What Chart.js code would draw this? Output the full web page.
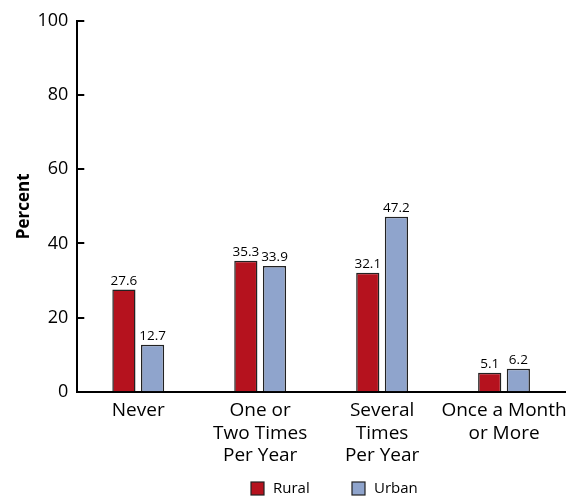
<!DOCTYPE html>
<html>
<head>
<meta charset="utf-8">
<script src="https://cdn.jsdelivr.net/npm/chart.js@4.4.0/dist/chart.umd.min.js"></script>
<style>
  html, body { margin: 0; padding: 0; background: #fff; }
  #wrap { width: 574px; height: 502px; }
</style>
</head>
<body>
<div id="wrap"><canvas id="chart"></canvas></div>
<script>
// Chart data
const categories = [
    'Never',
    ['One or', 'Two Times', 'Per Year'],
    ['Several', 'Times', 'Per Year'],
    ['Once a Month', 'or More']
];
const seriesNames = ['Rural', 'Urban'];
const ruralValues = [27.6, 35.3, 32.1, 5.1];
const urbanValues = [12.7, 33.9, 47.2, 6.2];
const yTicks = [0, 20, 40, 60, 80, 100];

const FONT = "'Open Sans', 'Noto Sans', sans-serif";
const colors = ['#b5121e', '#8fa4cc'];

// Value labels above each bar
const valueLabels = {
    id: 'valueLabels',
    afterDatasetsDraw(chart) {
        const ctx = chart.ctx;
        ctx.save();
        ctx.font = '13.5px ' + FONT;
        ctx.fillStyle = '#000';
        ctx.textAlign = 'center';
        ctx.textBaseline = 'bottom';
        chart.data.datasets.forEach((ds, i) => {
            chart.getDatasetMeta(i).data.forEach((bar, j) => {
                ctx.fillText(ds.data[j].toFixed(1), bar.x, bar.y - 2);
            });
        });
        ctx.restore();
    }
};

// Tick marks pointing into the plot on the y axis
const innerTicks = {
    id: 'innerTicks',
    afterDraw(chart) {
        const y = chart.scales.y;
        const ctx = chart.ctx;
        ctx.save();
        ctx.strokeStyle = '#000';
        ctx.lineWidth = 2;
        yTicks.forEach(v => {
            const py = Math.round(y.getPixelForValue(v));
            ctx.beginPath();
            ctx.moveTo(y.right, py);
            ctx.lineTo(y.right + 7, py);
            ctx.stroke();
        });
        ctx.restore();
    }
};

// Legend drawn under the chart
const bottomLegend = {
    id: 'bottomLegend',
    afterDraw(chart) {
        const ctx = chart.ctx;
        const xs = [251, 352];
        const top = 482;
        ctx.save();
        ctx.font = '15px ' + FONT;
        ctx.textBaseline = 'middle';
        chart.data.datasets.forEach((ds, i) => {
            ctx.fillStyle = ds.backgroundColor;
            ctx.fillRect(xs[i], top, 13, 13);
            ctx.strokeStyle = '#222';
            ctx.lineWidth = 1.2;
            ctx.strokeRect(xs[i], top, 13, 13);
            ctx.fillStyle = '#000';
            ctx.fillText(ds.label, xs[i] + 22, top + 7);
        });
        ctx.restore();
    }
};

new Chart(document.getElementById('chart'), {
    type: 'bar',
    data: {
        labels: categories,
        datasets: [
            {
                label: seriesNames[0],
                data: ruralValues,
                backgroundColor: colors[0],
                borderColor: '#222',
                borderWidth: 1.5,
                categoryPercentage: 0.47,
                barPercentage: 0.81
            },
            {
                label: seriesNames[1],
                data: urbanValues,
                backgroundColor: colors[1],
                borderColor: '#222',
                borderWidth: 1.5,
                categoryPercentage: 0.47,
                barPercentage: 0.81
            }
        ]
    },
    options: {
        responsive: true,
        maintainAspectRatio: false,
        animation: false,
        layout: {
            padding: { left: 14, right: 9, top: 21, bottom: 35 }
        },
        plugins: {
            legend: { display: false },
            tooltip: { enabled: false }
        },
        scales: {
            x: {
                grid: { display: false },
                border: { display: true, color: '#000', width: 2 },
                ticks: {
                    color: '#000',
                    padding: 0,
                    font: { family: FONT, size: 19, lineHeight: 1.18 },
                    maxRotation: 0,
                    autoSkip: false
                }
            },
            y: {
                min: 0,
                max: 100,
                afterBuildTicks: axis => {
                    axis.ticks = yTicks.map(v => ({ value: v }));
                },
                grid: { display: true, drawOnChartArea: false, drawTicks: false },
                border: { display: true, color: '#000', width: 2 },
                ticks: {
                    color: '#000',
                    padding: 9,
                    font: { family: FONT, size: 18 }
                },
                title: {
                    display: true,
                    text: 'Percent',
                    color: '#000',
                    padding: { top: 0, bottom: -6 },
                    font: { family: FONT, size: 17, weight: 'bold' }
                }
            }
        }
    },
    plugins: [valueLabels, innerTicks, bottomLegend]
});
</script>
</body>
</html>
